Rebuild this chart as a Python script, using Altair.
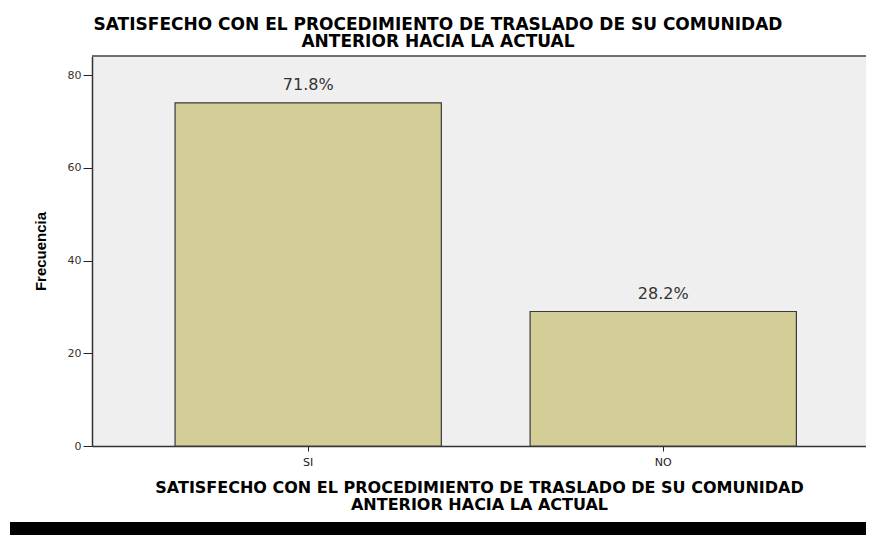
import altair as alt
import pandas as pd

categories = ["SI", "NO"]
counts = [74, 29]
pct_labels = ["71.8%", "28.2%"]
y_ticks = [0, 20, 40, 60, 80]

title_lines = ["SATISFECHO CON EL PROCEDIMIENTO DE TRASLADO DE SU COMUNIDAD",
               "ANTERIOR HACIA LA ACTUAL"]
x_title_lines = ["SATISFECHO CON EL PROCEDIMIENTO DE TRASLADO DE SU COMUNIDAD",
                 "ANTERIOR HACIA LA ACTUAL"]
y_title = "Frecuencia"

df = pd.DataFrame({"cat": categories, "n": counts, "pct": pct_labels})

W, H = 774, 390

x_enc = alt.X(
    "cat:N", sort=categories,
    scale=alt.Scale(paddingInner=0.25, paddingOuter=0.215, align=0.544),
    axis=alt.Axis(
        title=x_title_lines, titleFont="DejaVu Sans", titleFontSize=16,
        titleFontWeight="bold", titleColor="#000000", titleLineHeight=17,
        titleBaseline="top", titleY=33,
        labelFont="DejaVu Sans", labelFontSize=11, labelColor="#222222",
        labelAngle=0, labelPadding=5, tickSize=5, tickColor="#222222",
        domainColor="#333333", domainWidth=1.5,
    ),
)
y_enc = alt.Y(
    "n:Q",
    scale=alt.Scale(domain=[0, 84.1], nice=False, zero=True),
    axis=alt.Axis(
        title=y_title, titleFont="Liberation Sans", titleFontSize=15,
        titleFontWeight="bold", titleColor="#000000", titleAngle=-90,
        titleX=-44, titleY=H / 2, titleAlign="center", titleBaseline="bottom",
        values=y_ticks, labelFont="DejaVu Sans", labelFontSize=11,
        labelColor="#333333", labelPadding=2, tickSize=9, tickColor="#222222",
        domainColor="#333333", domainWidth=1.5, grid=False,
    ),
)

base = alt.Chart(df)

bars = base.mark_bar(
    color="#D3CE98", stroke="#3a3a3a", strokeWidth=1.2, opacity=1
).encode(x=x_enc, y=y_enc)

labels = base.mark_text(
    font="DejaVu Sans", fontSize=16, color="#333333",
    baseline="alphabetic", dy=-13
).encode(x=alt.X("cat:N", sort=categories), y="n:Q", text="pct:N")

deco = alt.Chart(pd.DataFrame({"k": [0]}))
top_border = deco.mark_rule(color="#707070", strokeWidth=2).encode(
    x=alt.value(0), x2=alt.value(W), y=alt.value(0)
)
black_band = deco.mark_rect(color="#000000").encode(
    x=alt.value(-82), x2=alt.value(W), y=alt.value(466), y2=alt.value(490)
)

chart = alt.layer(bars, labels, top_border, black_band).properties(
    width=W, height=H,
    autosize=alt.AutoSizeParams(type="none"),
    padding={"left": 84, "top": 48, "right": 0, "bottom": 89},
    background="#FFFFFF",
    title=alt.TitleParams(
        text=title_lines, font="DejaVu Sans", fontSize=17, fontWeight="bold",
        color="#000000", lineHeight=17, anchor="middle", frame="group",
        dx=-41, offset=4,
    ),
).configure_view(fill="#EFEFEF", stroke="transparent")

chart.save("out.html", embed_options={"renderer": "svg", "actions": False})
